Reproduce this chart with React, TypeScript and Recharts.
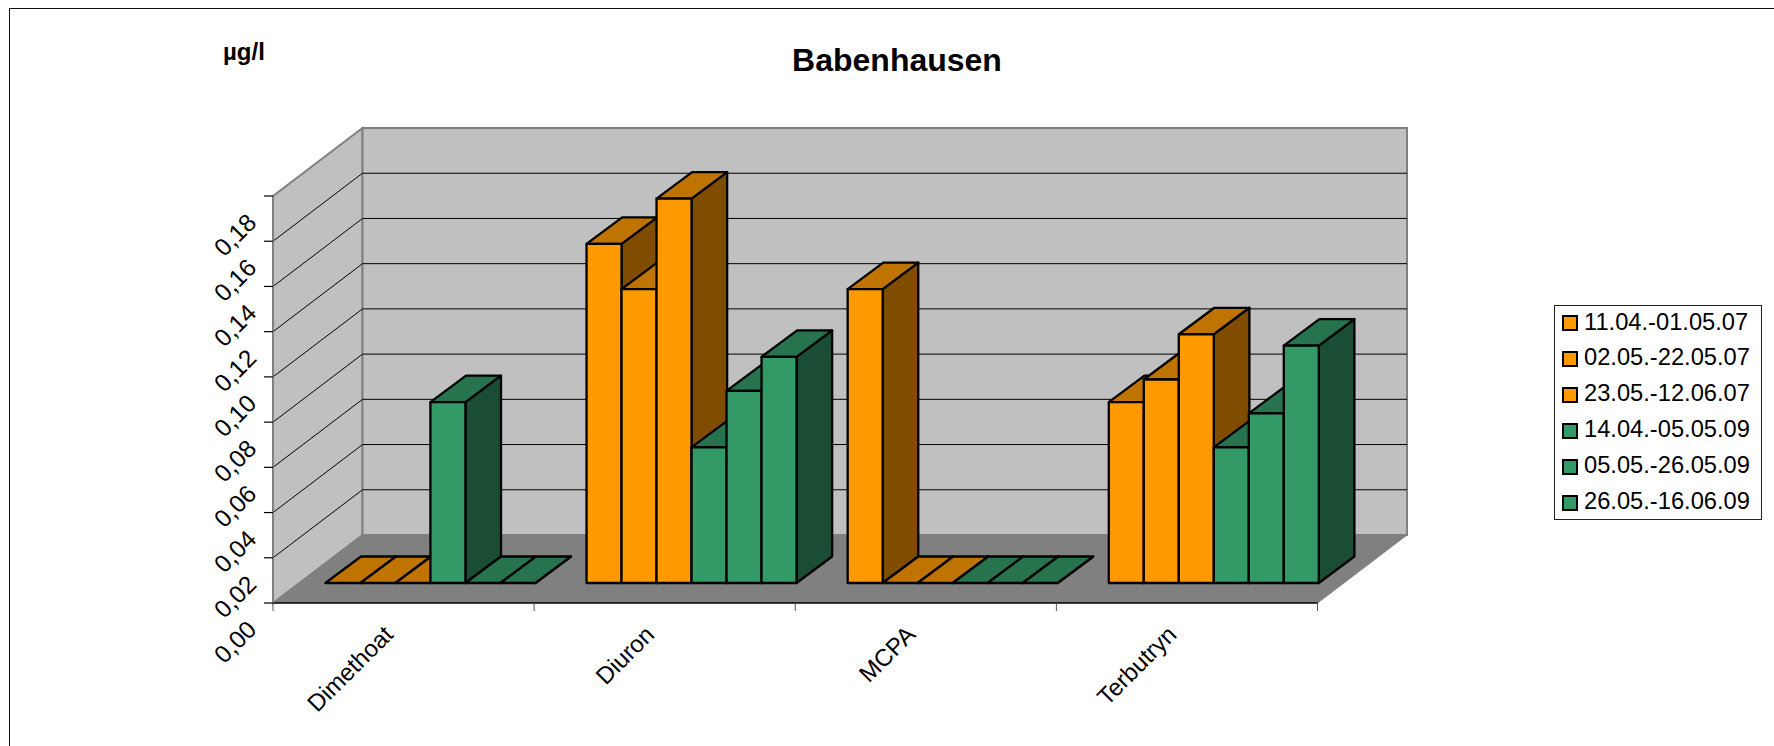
import { BarChart, Bar, XAxis, YAxis, CartesianGrid, Legend } from "recharts";

const categories = ["Dimethoat", "Diuron", "MCPA", "Terbutryn"];

const seriesNames = [
  "11.04.-01.05.07",
  "02.05.-22.05.07",
  "23.05.-12.06.07",
  "14.04.-05.05.09",
  "05.05.-26.05.09",
  "26.05.-16.06.09",
];

const period1 = [0, 0.15, 0.13, 0.08];
const period2 = [0, 0.13, 0, 0.09];
const period3 = [0, 0.17, 0, 0.11];
const period4 = [0.08, 0.06, 0, 0.06];
const period5 = [0, 0.085, 0, 0.075];
const period6 = [0, 0.1, 0, 0.105];

const yTicks = [0, 0.02, 0.04, 0.06, 0.08, 0.1, 0.12, 0.14, 0.16, 0.18];

const allSeries = [period1, period2, period3, period4, period5, period6];

const data = categories.map((name, i) => {
  const row: Record<string, string | number> = { name };
  seriesNames.forEach((s, j) => {
    row[s] = allSeries[j][i];
  });
  return row;
});

const ORANGE = { front: "#FF9900", top: "#BF7300", side: "#804D00" };
const GREEN = { front: "#339966", top: "#26734D", side: "#1A4D33" };
const seriesColors = [ORANGE, ORANGE, ORANGE, GREEN, GREEN, GREEN];

// front plane of the box is the plot area, the back wall sits behind it by this much
const WALL_DX = 89.5;
const WALL_DY = -68;
// bars stand a little way into the floor
const BAR_SHIFT_X = 26.3;
const BAR_SHIFT_Y = -20;
const BAR_DX = 35.6;
const BAR_DY = -26.5;

const PLOT = { left: 273, right: 1317.5, top: 196, bottom: 603 };
const FONT = "'Liberation Sans', Arial, sans-serif";

const pts = (list: number[][]) => list.map((p) => p.join(",")).join(" ");

function Box3D(props: any) {
  const { x, y, width, height, color } = props;
  const x0 = x + BAR_SHIFT_X;
  const y0 = y + BAR_SHIFT_Y;
  const x1 = x0 + width;
  const y1 = y0 + height;
  const common = { stroke: "#000", strokeWidth: 2.3, strokeLinejoin: "round" as const };
  return (
    <g>
      <polygon
        points={pts([[x1, y0], [x1 + BAR_DX, y0 + BAR_DY], [x1 + BAR_DX, y1 + BAR_DY], [x1, y1]])}
        fill={color.side}
        {...common}
      />
      <polygon
        points={pts([[x0, y0], [x0 + BAR_DX, y0 + BAR_DY], [x1 + BAR_DX, y0 + BAR_DY], [x1, y0]])}
        fill={color.top}
        {...common}
      />
      {height > 0 && <rect x={x0} y={y0} width={width} height={height} fill={color.front} {...common} />}
    </g>
  );
}

// walls get drawn with the first grid line so they stay behind everything else
function gridLine(props: any) {
  const { x1, x2, y1, index } = props;
  const bx1 = x1 + WALL_DX;
  const bx2 = x2 + WALL_DX;
  const by = y1 + WALL_DY;
  const top = PLOT.top;
  const bottom = PLOT.bottom;
  const isEdge = Math.abs(y1 - bottom) < 1 || Math.abs(y1 - top) < 1;
  return (
    <g key={index}>
      {Math.abs(y1 - bottom) < 1 && (
        <g>
          <polygon
            points={pts([[x1, bottom], [bx1, bottom + WALL_DY], [bx2, bottom + WALL_DY], [x2, bottom]])}
            fill="#808080"
          />
          <polygon
            points={pts([[x1, top], [bx1, top + WALL_DY], [bx1, bottom + WALL_DY], [x1, bottom]])}
            fill="#C0C0C0"
            stroke="#808080"
            strokeWidth={2}
          />
          <rect
            x={bx1}
            y={top + WALL_DY}
            width={bx2 - bx1}
            height={bottom - top}
            fill="#C0C0C0"
            stroke="#808080"
            strokeWidth={2}
          />
          <line x1={x2} y1={bottom} x2={bx2} y2={bottom + WALL_DY} stroke="#808080" strokeWidth={1} />
        </g>
      )}
      {!isEdge && (
        <g>
          <line x1={x1} y1={y1} x2={bx1} y2={by} stroke="#000" strokeWidth={1} />
          <line x1={bx1} y1={by} x2={bx2} y2={by} stroke="#000" strokeWidth={1} />
        </g>
      )}
    </g>
  );
}

function YTick(props: any) {
  const { y, payload } = props;
  return (
    <g>
      <line x1={PLOT.left - 9} y1={y} x2={PLOT.left} y2={y} stroke="#000" strokeWidth={1.2} />
      <text
        transform={`translate(${PLOT.left - 15},${y + 28}) rotate(-45)`}
        textAnchor="end"
        fontFamily={FONT}
        fontSize={24.5}
        fill="#000"
      >
        {payload.value.toFixed(2).replace(".", ",")}
      </text>
    </g>
  );
}

function XTick(props: any) {
  const { x, payload, index } = props;
  const band = (PLOT.right - PLOT.left) / categories.length;
  const left = x - band / 2;
  return (
    <g>
      <line x1={left} y1={PLOT.bottom} x2={left} y2={PLOT.bottom + 8} stroke="#555" strokeWidth={1} />
      {index === categories.length - 1 && (
        <line x1={left + band} y1={PLOT.bottom} x2={left + band} y2={PLOT.bottom + 8} stroke="#555" strokeWidth={1} />
      )}
      <text
        transform={`translate(${x - 9},${PLOT.bottom + 33}) rotate(-45)`}
        textAnchor="end"
        fontFamily={FONT}
        fontSize={24}
        fill="#000"
      >
        {payload.value}
      </text>
    </g>
  );
}

function LegendBox() {
  return (
    <div
      style={{
        position: "absolute",
        left: 1554,
        top: 305,
        width: 207.5,
        height: 215,
        border: "1px solid #222",
        background: "#fff",
        boxSizing: "border-box",
        fontFamily: FONT,
      }}
    >
      {seriesNames.map((s, i) => (
        <div
          key={s}
          style={{ position: "absolute", left: 0, top: i * 35.9, width: 205, height: 36 }}
        >
          <span
            style={{
              position: "absolute",
              left: 7,
              top: 9,
              width: 12,
              height: 12,
              border: "2px solid #000",
              background: seriesColors[i].front,
            }}
          />
          <span
            style={{
              position: "absolute",
              left: 29,
              top: 2.5,
              fontSize: 23.7,
              lineHeight: "26px",
              whiteSpace: "nowrap",
              color: "#000",
            }}
          >
            {s}
          </span>
        </div>
      ))}
    </div>
  );
}

export default function App() {
  return (
    <div style={{ position: "absolute", left: 0, top: 0, width: 1774, height: 746, background: "#fff", overflow: "hidden" }}>
      <div
        style={{
          position: "absolute",
          left: 8.5,
          top: 7.5,
          width: 1790,
          height: 760,
          border: "1.5px solid #111",
          boxSizing: "border-box",
        }}
      />
      <BarChart
        width={1774}
        height={746}
        data={data}
        margin={{ left: 0, right: 1774 - PLOT.right, top: PLOT.top, bottom: 0 }}
        barCategoryGap="10%"
        barGap={0}
        style={{ position: "absolute", left: 0, top: 0 }}
      >
        <CartesianGrid vertical={false} horizontal={gridLine} />
        <XAxis
          dataKey="name"
          interval={0}
          tick={<XTick />}
          tickLine={false}
          axisLine={{ stroke: "#000", strokeWidth: 1.5 }}
          height={746 - PLOT.bottom}
        />
        <YAxis
          type="number"
          domain={[0, 0.18]}
          ticks={yTicks}
          tick={<YTick />}
          tickLine={false}
          axisLine={{ stroke: "#808080", strokeWidth: 2 }}
          width={PLOT.left}
        />
        {seriesNames.map((s, i) => (
          <Bar
            key={s}
            dataKey={s}
            isAnimationActive={false}
            shape={(p: any) => <Box3D {...p} color={seriesColors[i]} />}
          />
        ))}
        <Legend content={<LegendBox />} wrapperStyle={{ position: "absolute", left: 0, top: 0, width: 0, height: 0 }} />
        <text x={897} y={71} textAnchor="middle" fontFamily={FONT} fontWeight="bold" fontSize={32} fill="#000">
          Babenhausen
        </text>
        <text x={223} y={60} fontFamily={FONT} fontWeight="bold" fontSize={24} fill="#000">
          µg/l
        </text>
      </BarChart>
    </div>
  );
}
